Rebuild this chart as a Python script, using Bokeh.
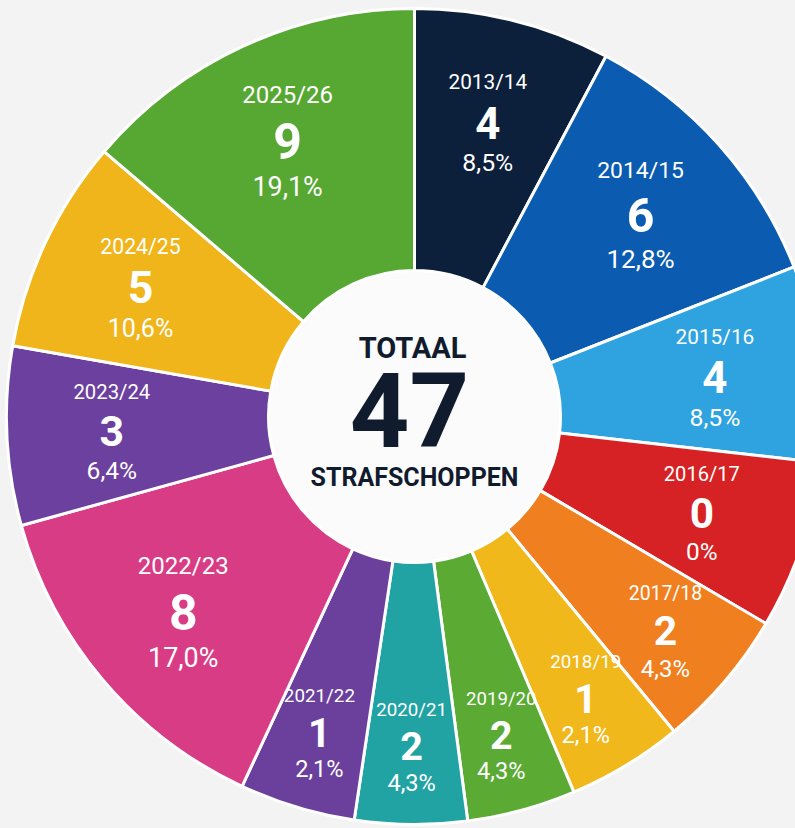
import math
from bokeh.plotting import figure
from bokeh.models import Range1d, ColumnDataSource
from bokeh.core.properties import value
from bokeh.embed import file_html
from bokeh.resources import INLINE

# ---- data ----
seasons = ["2013/14", "2014/15", "2015/16", "2016/17", "2017/18", "2018/19", "2019/20",
           "2020/21", "2021/22", "2022/23", "2023/24", "2024/25", "2025/26"]
penalties = [4, 6, 4, 0, 2, 1, 2, 2, 1, 8, 3, 5, 9]
pct_labels = ["8,5%", "12,8%", "8,5%", "0%", "4,3%", "2,1%", "4,3%", "4,3%", "2,1%",
              "17,0%", "6,4%", "10,6%", "19,1%"]
# slice sizes as drawn in the picture (degrees, clockwise from the top)
slice_deg = [28, 40.5, 28, 24, 20, 16.5, 15.5, 16, 16.5, 49.5, 25.5, 30.5, 49.5]
colors = ["#0c1f3b", "#0b5bb0", "#2fa3e0", "#d62224", "#f07f1f", "#f1b81b", "#5aaa33",
          "#21a2a3", "#6b3f9c", "#d83c85", "#6c409f", "#f0b51b", "#57a833"]
total_label = "47"

W, H = 795, 828
CX, CY = 414, 412       # centre in data units (y up)
R_OUT, R_IN = 408, 146

p = figure(width=W, height=H, output_backend="svg", toolbar_location=None,
           x_range=Range1d(0, W), y_range=Range1d(0, H), min_border=0)
p.axis.visible = False
p.grid.visible = False
p.outline_line_color = None
p.background_fill_color = "#f3f3f3"
p.border_fill_color = "#f3f3f3"

starts, ends, mids = [], [], []
acc = 0.0
for d in slice_deg:
    a1, a2 = acc, acc + d
    starts.append(math.radians(90 - a2))
    ends.append(math.radians(90 - a1))
    mids.append((a1 + a2) / 2)
    acc = a2

src = ColumnDataSource(dict(x=[CX] * len(seasons), y=[CY] * len(seasons),
                            start=starts, end=ends, color=colors))
p.circle(x=[CX], y=[CY], radius=R_IN + 2, fill_color="#fbfbfb", line_color=None)
p.annular_wedge(x="x", y="y", inner_radius=R_IN, outer_radius=R_OUT,
                start_angle="start", end_angle="end", fill_color="color",
                line_color="white", line_width=3, source=src)

sx, sy, vx, vy, px, py = [], [], [], [], [], []
sfs, vfs, pfs = [], [], []
for m, d in zip(mids, slice_deg):
    r = 303 if d >= 22 else 330
    th = math.radians(m)
    cx = CX + r * math.sin(th)
    cy = CY + r * math.cos(th)
    s_size = min(24, 16 + 0.17 * d)
    v_size = min(50, 34 + 0.35 * d)
    p_size = min(27, 22 + 0.1 * d)
    off = 0.92 * v_size
    sx.append(cx); sy.append(cy + off)
    vx.append(cx); vy.append(cy)
    px.append(cx); py.append(cy - off)
    sfs.append(f"{s_size:.1f}px"); vfs.append(f"{v_size:.1f}px"); pfs.append(f"{p_size:.1f}px")

lab = ColumnDataSource(dict(sx=sx, sy=sy, vx=vx, vy=vy, px=px, py=py,
                            season=seasons, val=[str(v) for v in penalties], pct=pct_labels,
                            sfs=sfs, vfs=vfs, pfs=pfs))
p.text(x="sx", y="sy", text="season", source=lab, text_color="white",
       text_font=value("Roboto"), text_font_size="sfs", text_align="center",
       text_baseline="middle")
p.text(x="vx", y="vy", text="val", source=lab, text_color="white",
       text_font=value("Roboto"), text_font_style="bold", text_font_size="vfs",
       text_align="center", text_baseline="middle")
p.text(x="px", y="py", text="pct", source=lab, text_color="white",
       text_font=value("Roboto"), text_font_size="pfs", text_align="center",
       text_baseline="middle")

navy = "#101c2e"
p.text(x=[CX - 2], y=[H - 347], text=["TOTAAL"], text_color=navy, text_font=value("Roboto"),
       text_font_style="bold", text_font_size="29px", text_align="center",
       text_baseline="middle")
p.text(x=[CX - 5], y=[H - 409], text=[total_label], text_color=navy, text_font=value("Roboto"),
       text_font_style="bold", text_font_size="104px", text_align="center",
       text_baseline="middle")
p.text(x=[CX], y=[H - 477], text=["STRAFSCHOPPEN"], text_color=navy,
       text_font=value("Roboto"), text_font_style="bold", text_font_size="25px",
       text_align="center", text_baseline="middle")

html = file_html(p, INLINE)
html = html.replace("<head>", "<head><style>html,body{background:#f3f3f3;}</style>", 1)
open("out.html", "w").write(html)
